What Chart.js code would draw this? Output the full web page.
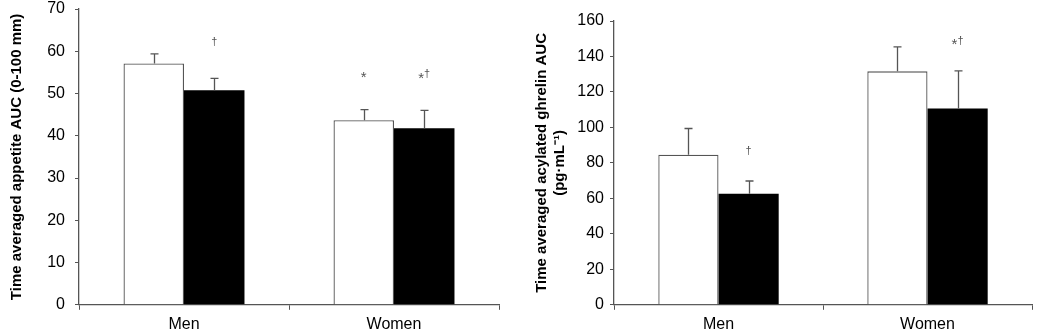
<!DOCTYPE html>
<html>
<head>
<meta charset="utf-8">
<script src="https://cdn.jsdelivr.net/npm/chart.js@4"></script>
<style>
  html, body { margin: 0; padding: 0; background: #fff; }
  body { width: 1051px; height: 334px; position: relative; overflow: hidden; }
  .box { position: absolute; top: 0; height: 334px; }
  #b1 { left: 0; width: 520px; }
  #b2 { left: 525px; width: 526px; }
</style>
</head>
<body>
<div class="box" id="b1"><canvas id="c1"></canvas></div>
<div class="box" id="b2"><canvas id="c2"></canvas></div>
<script>
// ---- data ----
const categories = ['Men', 'Women'];

// Left panel: appetite AUC (0-100 mm)
const appetiteControl = [57.1, 43.7];
const appetiteControlErr = [2.3, 2.5];
const appetiteExercise = [50.8, 41.8];
const appetiteExerciseErr = [2.8, 4.2];
const appetiteControlMarks = ['', '*'];
const appetiteExerciseMarks = ['\u2020', '*\u2020'];
const appetiteTicks = { min: 0, max: 70, step: 10 };
const appetiteTitle = 'Time averaged appetite AUC (0-100 mm)';

// Right panel: acylated ghrelin AUC (pg·mL-1)
const ghrelinControl = [84.6, 131.6];
const ghrelinControlErr = [14.8, 13.8];
const ghrelinExercise = [62.6, 110.6];
const ghrelinExerciseErr = [7.2, 21.3];
const ghrelinControlMarks = ['', ''];
const ghrelinExerciseMarks = ['\u2020', '*\u2020'];
const ghrelinTicks = { min: 0, max: 160, step: 20 };
const ghrelinTitle = ['Time averaged acylated ghrelin AUC', '(pg\u00B7mL\u207B\u00B9)'];

const AXIS = '#555555';
const FONT = "'Liberation Sans', Arial, sans-serif";

const errorBarPlugin = {
  id: 'errorBars',
  afterDatasetsDraw(chart, args, opts) {
    const ctx = chart.ctx;
    const y = chart.scales.y;
    const markGap = opts.markGap || 30;
    ctx.save();
    chart.data.datasets.forEach((ds, i) => {
      const meta = chart.getDatasetMeta(i);
      meta.data.forEach((el, j) => {
        const v = ds.data[j];
        const top = y.getPixelForValue(v + ds.errors[j]);
        const x = Math.round(el.x) + 0.5;
        ctx.strokeStyle = AXIS;
        ctx.lineWidth = 1.3;
        ctx.beginPath();
        ctx.moveTo(x, el.y);
        ctx.lineTo(x, top);
        ctx.moveTo(x - 4, top);
        ctx.lineTo(x + 4, top);
        ctx.stroke();
        const m = ds.marks[j];
        if (m) {
          ctx.fillStyle = '#555';
          ctx.textBaseline = 'middle';
          const parts = m.split('');
          const fontFor = p => (p === '*' ? '15px ' : '11px ') + FONT;
          const widths = parts.map(p => { ctx.font = fontFor(p); return ctx.measureText(p).width; });
          const total = widths.reduce((a, b) => a + b, 0);
          let cx = el.x - total / 2;
          parts.forEach((p, k) => {
            ctx.font = fontFor(p);
            ctx.textAlign = 'left';
            ctx.fillText(p, cx, top - markGap + (p === '*' ? 3 : -1));
            cx += widths[k];
          });
        }
      });
    });
    ctx.restore();
  }
};

function makeChart(id, ctrl, ctrlErr, ctrlMarks, ex, exErr, exMarks, ticks, title, yWidth, pad, markGap, tickPad, titleSize) {
  return new Chart(document.getElementById(id), {
    type: 'bar',
    data: {
      labels: categories,
      datasets: [
        { data: ctrl, errors: ctrlErr, marks: ctrlMarks, backgroundColor: '#ffffff', borderColor: AXIS, borderWidth: 1.3, borderSkipped: 'bottom' },
        { data: ex, errors: exErr, marks: exMarks, backgroundColor: '#000000', borderColor: '#000000', borderWidth: 0 }
      ]
    },
    options: {
      responsive: true,
      maintainAspectRatio: false,
      animation: false,
      datasets: { bar: { categoryPercentage: 0.576, barPercentage: 1.0 } },
      layout: { padding: pad },
      plugins: { legend: { display: false }, tooltip: { enabled: false }, errorBars: { markGap: markGap } },
      scales: {
        x: {
          offset: true,
          afterFit(scale) { scale.paddingLeft = 0; scale.paddingRight = 0; },
          grid: { offset: true, drawOnChartArea: false, drawTicks: true, tickLength: 5, color: AXIS, lineWidth: 1 },
          border: { color: AXIS, width: 1.3 },
          ticks: { color: '#000', font: { family: FONT, size: 16 }, padding: 5 }
        },
        y: {
          min: ticks.min, max: ticks.max,
          afterFit(scale) { scale.width = yWidth; scale.paddingTop = 0; scale.paddingBottom = 0; },
          grid: { drawOnChartArea: false, drawTicks: true, tickLength: 4, color: AXIS },
          border: { color: AXIS, width: 1.3 },
          ticks: { stepSize: ticks.step, color: '#000', font: { family: FONT, size: 16 }, padding: tickPad },
          title: { display: true, text: title, color: '#000', font: { family: FONT, size: titleSize, weight: 'bold', lineHeight: 1.2 }, padding: { top: 8, bottom: 0 } }
        }
      }
    },
    plugins: [errorBarPlugin]
  });
}

makeChart('c1', appetiteControl, appetiteControlErr, appetiteControlMarks,
  appetiteExercise, appetiteExerciseErr, appetiteExerciseMarks,
  appetiteTicks, appetiteTitle, 79, { left: 0, right: 21, top: 9, bottom: -5 }, 35, 10, 15);
makeChart('c2', ghrelinControl, ghrelinControlErr, ghrelinControlMarks,
  ghrelinExercise, ghrelinExerciseErr, ghrelinExerciseMarks,
  ghrelinTicks, ghrelinTitle, 89, { left: 0, right: 19, top: 21, bottom: -5 }, 29, 6, 15);
</script>
</body>
</html>
